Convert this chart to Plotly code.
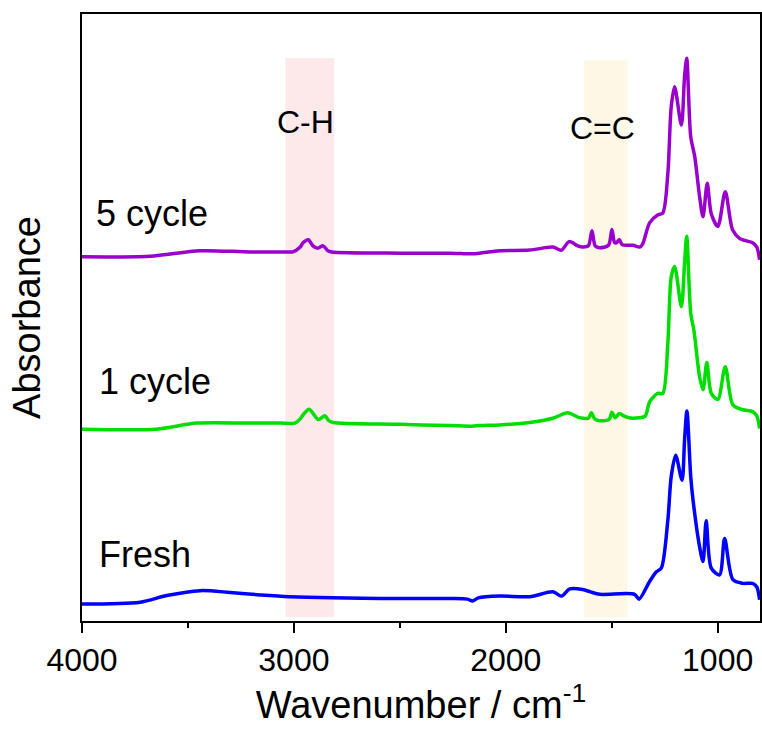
import plotly.graph_objects as go

# ---- data ----
wn_5 = [4000, 3680, 3443, 3208, 3019, 3005, 2970, 2957, 2932, 2910, 2888, 2862, 2840, 2822,
        2500, 2264, 2160, 2123, 2028, 1887, 1778, 1737, 1701, 1660, 1637, 1610, 1593, 1578,
        1557, 1515, 1499, 1487, 1478, 1464, 1450, 1400, 1368, 1354, 1321, 1283, 1259, 1235,
        1219, 1203, 1171, 1156, 1146, 1127, 1108, 1085, 1069, 1049, 1030, 999, 964, 929, 895,
        873, 835, 815, 802]
ab_5 = [60.0, 60.1, 61.0, 60.8, 60.8, 60.8, 61.6, 62.3, 62.8, 61.8, 61.4, 61.8, 61.0, 60.8,
        60.6, 60.6, 60.5, 60.6, 61.0, 61.1, 61.6, 61.1, 62.5, 61.8, 61.6, 61.8, 64.3, 61.8,
        61.5, 61.9, 64.5, 62.4, 62.3, 62.8, 62.0, 61.9, 61.6, 62.1, 65.6, 66.9, 67.2, 73.7,
        84.7, 88.0, 81.7, 89.7, 92.7, 79.8, 76.5, 69.9, 66.6, 72.1, 67.1, 65.0, 70.7, 64.4, 63.0,
        62.7, 62.3, 61.6, 59.5]

wn_1 = [4000, 3648, 3459, 3208, 3066, 2995, 2970, 2956, 2928, 2885, 2854, 2835, 2815,
        2500, 2264, 2160, 2123, 2028, 1887, 1778, 1708, 1660, 1637, 1610, 1596, 1580,
        1557, 1512, 1499, 1483, 1464, 1439, 1400, 1344, 1336, 1321, 1283, 1259, 1235,
        1219, 1203, 1171, 1156, 1146, 1127, 1112, 1085, 1069, 1051, 1030, 999, 964, 928,
        881, 835, 815, 802]
ab_1 = [31.6, 31.6, 32.6, 32.6, 32.6, 32.6, 33.3, 34.0, 34.9, 33.2, 33.8, 33.0, 32.7,
        32.4, 32.2, 32.1, 32.2, 32.3, 32.7, 33.4, 34.3, 33.6, 33.4, 33.4, 34.3, 33.3,
        33.0, 33.2, 34.4, 33.5, 34.2, 33.7, 33.4, 33.7, 34.2, 36.1, 37.5, 37.5, 45.7,
        56.7, 58.4, 51.8, 58.9, 63.4, 50.7, 47.9, 40.2, 38.1, 42.6, 37.5, 36.5, 41.9, 35.6,
        34.8, 34.5, 33.8, 31.7]

wn_0 = [4000, 3726, 3600, 3443, 3300, 3160, 3019, 2500, 2264, 2180, 2157, 2130, 2028,
        1887, 1778, 1737, 1698, 1637, 1600, 1557, 1392, 1371, 1321, 1289, 1266, 1235,
        1219, 1198, 1168, 1156, 1145, 1127, 1116, 1085, 1069, 1054, 1030, 991, 967, 928,
        881, 835, 815, 802]
ab_0 = [2.8, 3.1, 4.2, 5.0, 4.7, 4.3, 4.0, 3.7, 3.7, 3.6, 3.3, 3.8, 4.1,
        4.0, 4.8, 4.1, 5.3, 5.2, 4.8, 4.4, 4.4, 3.6, 6.5, 8.1, 8.7, 16.6,
        23.8, 27.3, 23.2, 29.8, 34.6, 23.8, 19.9, 12.2, 9.8, 16.5, 8.7, 7.6, 13.6, 6.8,
        6.2, 6.2, 5.6, 3.5]

series_names = ["Fresh", "1 cycle", "5 cycle"]
series_colors = ["#0000FF", "#00DD00", "#9900CC"]

band_labels = ["C-H", "C=C"]
band_ranges = [(3040, 2810), (1630, 1425)]
band_tops = [92.75, 92.4]
band_colors = ["#FDE8EA", "#FEF7E6"]
band_label_pos = [(2943, 82.2), (1542, 81.2)]

label_pos = [(3929, 11.0), (3929, 39.5), (3943, 67.2)]

tick_vals = [4000, 3000, 2000, 1000]

FONT = "Arial, Liberation Sans, sans-serif"

fig = go.Figure()

for (x0, x1), top, col in zip(band_ranges, band_tops, band_colors):
    fig.add_shape(type="rect", xref="x", yref="y", x0=x0, x1=x1, y0=0.66, y1=top,
                  fillcolor=col, line=dict(width=0), layer="below")

for wn, ab, name, col in zip([wn_0, wn_1, wn_5], [ab_0, ab_1, ab_5], series_names, series_colors):
    fig.add_trace(go.Scatter(x=wn, y=ab, mode="lines", name=name,
                             line=dict(color=col, width=3.5, shape="spline", smoothing=0.8)))

for (x, y), txt in zip(band_label_pos, band_labels):
    fig.add_annotation(x=x, y=y, xref="x", yref="y", text=txt, showarrow=False,
                       xanchor="center", yanchor="middle",
                       font=dict(family=FONT, size=32, color="black"))

for (x, y), txt in zip(label_pos, series_names):
    fig.add_annotation(x=x, y=y, xref="x", yref="y", text=txt, showarrow=False,
                       xanchor="left", yanchor="middle",
                       font=dict(family=FONT, size=36, color="black"))

fig.update_layout(
    width=762, height=729, autosize=False,
    margin=dict(l=82, r=2, t=14, b=108, autoexpand=False),
    plot_bgcolor="white", paper_bgcolor="white",
    showlegend=False,
    font=dict(family=FONT, color="black"),
)
fig.update_xaxes(
    range=[4000, 800], tickvals=tick_vals, ticks="outside", ticklen=10, tickwidth=2,
    tickcolor="black", tickfont=dict(size=32, family=FONT),
    minor=dict(dtick=500, tick0=0, ticks="outside", ticklen=5, tickwidth=2, tickcolor="black"),
    showline=True, linecolor="black", linewidth=2, mirror=True,
    showgrid=False, zeroline=False, automargin=False,
    title=dict(text="Wavenumber / cm<sup>-1</sup>", font=dict(size=38, family=FONT), standoff=6),
)
fig.update_yaxes(
    range=[0, 100], showticklabels=False, ticks="",
    showline=True, linecolor="black", linewidth=2, mirror=True,
    showgrid=False, zeroline=False, automargin=False,
    title=dict(text="Absorbance", font=dict(size=38, family=FONT), standoff=28),
)

post = ("document.body.style.margin='0';document.body.style.padding='0';"
        "document.body.style.overflow='hidden';"
        "document.documentElement.style.overflow='hidden';")

fig.write_html("out.html", config={"responsive": False, "displayModeBar": False},
               post_script=post)
